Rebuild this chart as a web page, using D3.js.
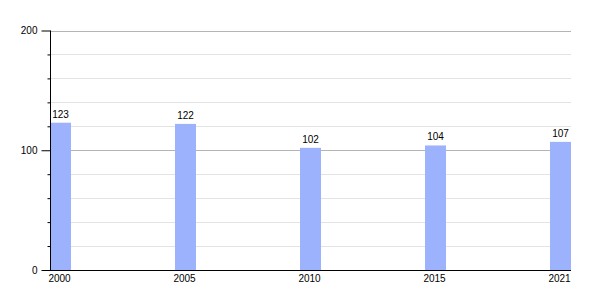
<!DOCTYPE html>
<html>
<head>
<meta charset="utf-8">
<script src="https://cdn.jsdelivr.net/npm/d3@7.9.0/dist/d3.min.js"></script>
<style>
  body { margin: 0; background: #fff; }
  svg { display: block; font-family: "Liberation Sans", Arial, sans-serif; }
</style>
</head>
<body>
<svg width="600" height="300"></svg>
<script>
// data
const years = ['2000', '2005', '2010', '2015', '2021'];
const population = [123, 122, 102, 104, 107];
const majorTicks = [0, 100, 200];
const minorTicks = [20, 40, 60, 80, 120, 140, 160, 180];

const svg = d3.select('svg');
const barWidth = 21;

let x = d3.scalePoint().domain(years).range([50, 550]);
let y = d3.scaleLinear().domain([0, 200]).range([270, 30.5]);
const right = x(years[years.length - 1]) + barWidth;

// minor gridlines
svg.append('g')
  .selectAll('line')
  .data(minorTicks)
  .join('line')
  .attr('x1', 50).attr('x2', right)
  .attr('y1', d => Math.round(y(d)) + 0.5).attr('y2', d => Math.round(y(d)) + 0.5)
  .attr('stroke', '#e3e3e3');

// major gridlines
svg.append('g')
  .selectAll('line')
  .data(majorTicks.filter(d => d > 0))
  .join('line')
  .attr('x1', 50).attr('x2', right)
  .attr('y1', d => Math.round(y(d)) + 0.5).attr('y2', d => Math.round(y(d)) + 0.5)
  .attr('stroke', '#b4b4b4');

// bars
let data = years.map((yr, i) => ({ year: yr, value: population[i] }));
svg.append('g')
  .selectAll('rect')
  .data(data)
  .join('rect')
  .attr('x', d => x(d.year))
  .attr('y', d => y(d.value))
  .attr('width', barWidth)
  .attr('height', d => y(0) - y(d.value))
  .attr('fill', '#9db2fc');

// value labels
svg.append('g')
  .selectAll('text')
  .data(data)
  .join('text')
  .attr('x', d => x(d.year) + barWidth / 2)
  .attr('y', d => y(d.value) - 5)
  .attr('text-anchor', 'middle')
  .attr('font-size', 10)
  .attr('fill', '#000')
  .text(d => d.value);

// y axis: major + minor ticks
let yAxis = svg.append('g').attr('transform', 'translate(50.5,0)');
yAxis.call(d3.axisLeft(y).tickValues(minorTicks).tickSize(3).tickFormat(''))
  .call(g => g.select('.domain').remove());
yAxis.append('g')
  .call(d3.axisLeft(y).tickValues(majorTicks).tickSize(9).tickPadding(4).tickFormat(d3.format('d')))
  .call(g => g.selectAll('text').attr('font-size', 10).attr('fill', '#000').attr('font-family', 'Liberation Sans, Arial, sans-serif'))
  .call(g => g.selectAll('line').attr('stroke', '#000'))
  .call(g => g.select('.domain').attr('d', `M0,${y(200)}V${y(0)}`));
yAxis.selectAll('line').attr('stroke', '#000');

// x axis line and labels
svg.append('line')
  .attr('x1', 50).attr('x2', right)
  .attr('y1', y(0) + 0.5).attr('y2', y(0) + 0.5)
  .attr('stroke', '#000');

svg.append('g')
  .selectAll('text')
  .data(years)
  .join('text')
  .attr('x', d => x(d) + barWidth / 2 - 1)
  .attr('y', 282)
  .attr('text-anchor', 'middle')
  .attr('font-size', 10)
  .attr('fill', '#000')
  .text(d => d);
</script>
</body>
</html>
